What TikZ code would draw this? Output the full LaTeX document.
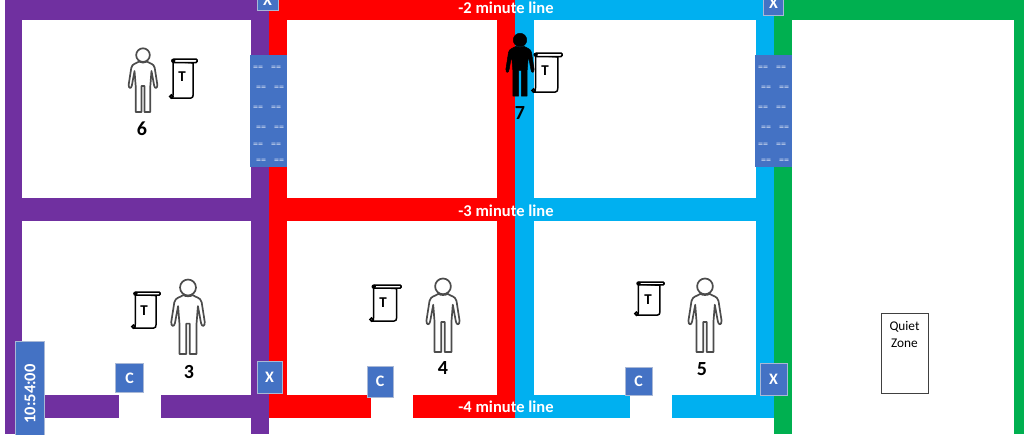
\documentclass[tikz,border=0pt]{standalone}
\usepackage{fontspec}
\setmainfont{Carlito}
\definecolor{wpurple}{HTML}{7030A0}
\definecolor{wred}{HTML}{FF0000}
\definecolor{wblue}{HTML}{00B0F0}
\definecolor{wgreen}{HTML}{00B050}
\definecolor{panel}{HTML}{4472C4}
\definecolor{edgeb}{HTML}{A9B8D6}
\newcommand{\fs}[1]{\fontsize{#1}{#1}\selectfont}
% \person{cx}{ytop}{height}{fill}{draw}{line width}
\newcommand{\person}[6]{%
\begin{scope}[shift={(#1,#2)},x=0.9*#3pt,y=-#3pt]
\filldraw[fill=#4,draw=#5,line width=#6,line join=round] (0,0.125) circle[radius=0.105*#3pt];
\filldraw[fill=#4,draw=#5,line width=#6,line join=round]
 (-0.07,0.225) .. controls (-0.12,0.26) and (-0.18,0.25) .. (-0.2,0.32)
 -- (-0.245,0.58) .. controls (-0.25,0.64) and (-0.2,0.65) .. (-0.19,0.59)
 -- (-0.145,0.37) -- (-0.125,0.6) -- (-0.125,1) -- (-0.025,1) -- (-0.025,0.6)
 -- (0.025,0.6) -- (0.025,1) -- (0.125,1) -- (0.125,0.6) -- (0.145,0.37)
 -- (0.19,0.59) .. controls (0.2,0.65) and (0.25,0.64) .. (0.245,0.58)
 -- (0.2,0.32) .. controls (0.18,0.25) and (0.12,0.26) .. (0.07,0.225)
 .. controls (0.03,0.245) and (-0.03,0.245) .. cycle;
\end{scope}}
% \scrollicon{left}{top}{width}{height}
\newcommand{\scrollicon}[4]{%
\begin{scope}[shift={(#1,#2)},x=#3pt,y=-#4pt]
\filldraw[fill=white,draw=black,line width=1.5pt,line join=round] (0.12,0.06) -- (0.12,0.88) .. controls (0.12,0.96) and (0.1,1) .. (0.04,1) -- (0.78,1) .. controls (0.84,1) and (0.86,0.96) .. (0.86,0.9) -- (0.86,0.1) -- cycle;
\filldraw[fill=white,draw=black,line width=1.5pt,rounded corners=1pt] (0.12,0) rectangle (1,0.09);
\fill[black] (0.12,0.045) circle[radius=2.2pt];
\draw[black,line width=1.5pt] (0.05,0.96) circle[radius=1.6pt];
\end{scope}}
\tikzset{
 bx/.style={draw=edgeb,line width=0.8pt,fill=panel,text=white,inner sep=0pt,font=\fs{16}\bfseries},
 doorbox/.style={fill=panel,draw=none,minimum width=37pt,minimum height=112pt,inner sep=0pt},
 eqs/.style={text=white,opacity=0.8,inner sep=0pt,font=\fs{10}},
 linelabel/.style={text=white,inner sep=0pt,font=\fs{16.5}\bfseries},
 num/.style={inner sep=0pt,font=\fs{20}\bfseries},
 tee/.style={inner sep=0pt,font=\fs{15}\bfseries},
}
\begin{document}
\begin{tikzpicture}[x=1pt,y=-1pt]
\useasboundingbox (0,0) rectangle (1024,434);
\clip (0,0) rectangle (1024,434);
\fill[white] (0,0) rectangle (1024,434);
% purple
\fill[wpurple] (4.5,0) rectangle (269,20);
\fill[wpurple] (4.5,0) rectangle (22,434);
\fill[wpurple] (250.5,0) rectangle (269,434);
\fill[wpurple] (4.5,198) rectangle (269,220.5);
\fill[wpurple] (4.5,395) rectangle (119,418);
\fill[wpurple] (160.5,395) rectangle (269,418);
% red
\fill[wred] (269,0) rectangle (515,20);
\fill[wred] (269,0) rectangle (287,395);
\fill[wred] (497,0) rectangle (515,418);
\fill[wred] (269,198) rectangle (515,220.5);
\fill[wred] (269,395) rectangle (371,418);
\fill[wred] (412.5,395) rectangle (515,418);
% blue
\fill[wblue] (515,0) rectangle (774,20);
\fill[wblue] (515,0) rectangle (533.5,418);
\fill[wblue] (755.5,0) rectangle (774,418);
\fill[wblue] (515,198) rectangle (774,220.5);
\fill[wblue] (515,395) rectangle (630,418);
\fill[wblue] (671.5,395) rectangle (774,418);
% green
\fill[wgreen] (774,0) rectangle (1024,20);
\fill[wgreen] (774,0) rectangle (792,434);
\fill[wgreen] (1014,0) rectangle (1024,434);
% line labels
\node[linelabel] (l2) at (506,8) {-2 minute line};
\node[linelabel] (l3) at (506,211) {-3 minute line};
\node[linelabel] (l4) at (506,407) {-4 minute line};
% door panels
\node[doorbox] (d1) at (268.5,111) {};
\node[doorbox] (d2) at (773.5,111) {};
\foreach \dx in {0,505}{
 \foreach \y/\o in {68/0,88/3,108/0,128/3,145/0,161/3}{
  \node[eqs] at (258+\dx+\o,\y) {==};
  \node[eqs] at (276+\dx+\o,\y) {==};
 }}
% X boxes
\node[bx,minimum width=21pt,minimum height=20pt] (x1) at (267.5,0) {X};
\node[bx,minimum width=20pt,minimum height=24pt] (x2) at (773.5,3) {X};
\node[bx,minimum width=25pt,minimum height=32pt] (x3) at (269.5,377) {X};
\node[bx,minimum width=27pt,minimum height=32pt] (x4) at (773.5,379) {X};
% C boxes
\node[bx,minimum width=28pt,minimum height=29pt] (c1) at (129.5,378) {C};
\node[bx,minimum width=26pt,minimum height=31pt] (c2) at (380,381.5) {C};
\node[bx,minimum width=27pt,minimum height=28pt] (c3) at (638.5,381.5) {C};
% clock
\node[bx,minimum width=29pt,minimum height=97pt] (clk) at (30,389.5) {};
\node[text=white,inner sep=0pt,font=\fs{16.5}\bfseries,rotate=90] (clkt) at (30,394) {10:54:00};
% quiet zone
\node[draw=black!75,fill=white,line width=1pt,minimum width=47pt,minimum height=80pt,inner sep=0pt] (qz) at (904.5,353) {};
\node[align=center,inner sep=0pt,font=\fontsize{13.3}{17}\selectfont] (qzt) at (904.5,334) {Quiet\\Zone};
% people
\person{143}{47}{65}{white}{black!70}{1.7pt}
\person{188}{278}{76}{white}{black!70}{1.7pt}
\person{443}{277}{75}{white}{black!70}{1.7pt}
\person{705}{277}{75}{white}{black!70}{1.7pt}
\person{520}{32}{64}{black}{black}{0.5pt}
% scrolls
\scrollicon{170}{59}{27}{39}
\scrollicon{132}{292}{28}{36}
\scrollicon{370}{285}{31}{36}
\scrollicon{635}{282}{29}{33}
\scrollicon{532}{53}{30}{39}
\node[tee] (t6) at (182,77) {T};
\node[tee] (t3) at (144,311) {T};
\node[tee] (t4) at (383,303) {T};
\node[tee] (t5) at (648,300) {T};
\node[tee] (t7) at (545,71) {T};
% numbers
\node[num] (n6) at (142,129) {6};
\node[num] (n3) at (189,372) {3};
\node[num] (n4) at (443,368) {4};
\node[num] (n5) at (702,369) {5};
\node[num] (n7) at (520,113) {7};
\end{tikzpicture}
\end{document}
